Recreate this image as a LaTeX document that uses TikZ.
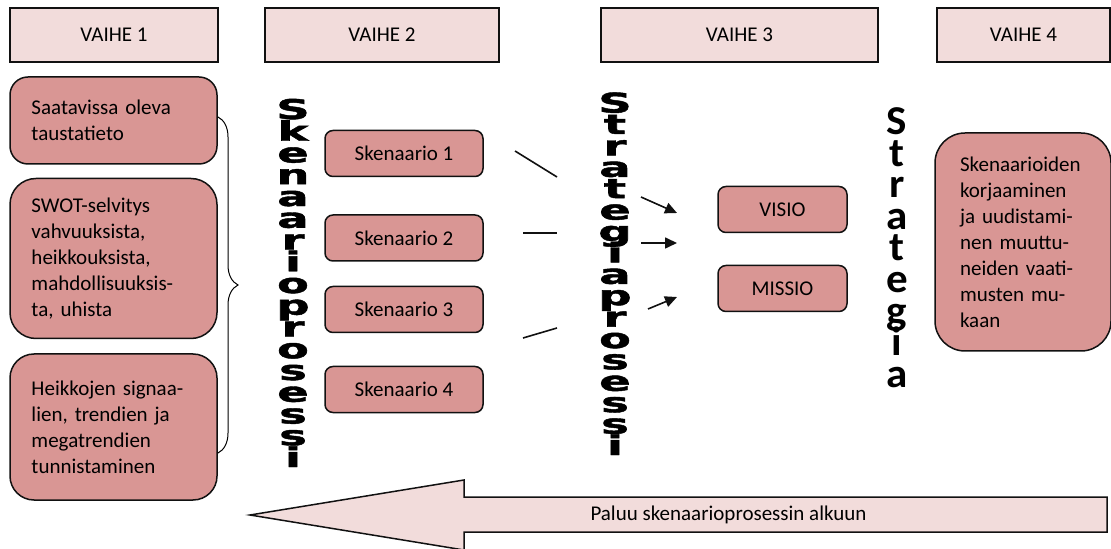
\documentclass[tikz,border=0pt]{standalone}
\usepackage{fontspec}
\setmainfont{Carlito}
\newfontfamily\stackfont{DejaVu Sans}[BoldFeatures={FakeBold=1.5}]
\usepackage{tikz}
\usetikzlibrary{positioning,arrows.meta,decorations.pathreplacing}
\definecolor{SkRose}{HTML}{D99694}
\definecolor{SkBlush}{HTML}{F2DCDB}
\definecolor{SkInk}{HTML}{111111}
% letters set one under another, with a fixed baseline step
\newcommand{\vstackword}[3]{%
  \scalebox{#1}[1]{\vbox{\baselineskip=#2\lineskiplimit=-\maxdimen\lineskip=0pt
    \halign{\hfil##\hfil\cr#3\cr}}}}
\tikzset{
  skBase/.style={
    font=\fontsize{10.5pt}{13pt}\selectfont,
    text=black,
    line width=0.75pt,
    draw=SkInk
  },
  skPhase/.style={
    skBase,
    fill=SkBlush,
    line width=0.9pt,
    minimum height=27pt,
    inner sep=0pt
  },
  skInfo/.style={
    skBase,
    fill=SkRose,
    align=left,
    inner xsep=10.75pt,
    inner ysep=0pt,
    text width=82pt
  },
  skScen/.style={
    skBase,
    fill=SkRose,
    rounded corners=4pt,
    minimum width=79pt,
    minimum height=23pt,
    inner sep=0pt
  },
  skStack/.style={
    font=\stackfont\bfseries\fontsize{13.6pt}{13.6pt}\selectfont,
    inner sep=0pt,
    anchor=base
  },
  skBigStack/.style={
    font=\bfseries\fontsize{20.5pt}{20.5pt}\selectfont,
    inner sep=0pt,
    anchor=base
  },
  skLine/.style={
    line width=0.8pt,
    draw=SkInk
  },
  skArrow/.style={
    line width=0.8pt,
    draw=SkInk,
    -{Triangle[length=6pt,width=5.5pt]}
  },
  skBrace/.style={
    line width=0.5pt,
    decorate,
    decoration={brace, amplitude=10pt}
  }
}
\begin{document}
\begin{tikzpicture}[x=0.5pt, y=-0.5pt]
  \useasboundingbox (0,0) rectangle (1111,549);

  % phases
  \node (ph1) [skPhase, minimum width=104pt] at (114,35) {VAIHE 1};
  \node (ph2) [skPhase, minimum width=117pt] at (382,35) {VAIHE 2};
  \node (ph3) [skPhase, minimum width=138.5pt] at (739.5,35) {VAIHE 3};
  \node (ph4) [skPhase, minimum width=86.5pt] at (1023.5,35) {VAIHE 4};

  % phase 1 sources
  \node (src) [skInfo, rounded corners=9pt, minimum height=43.5pt] at (113.5,120.5) {
    Saatavissa oleva\\
    taustatieto
  };
  \node (swot) [skInfo, below=6.5pt of src, rounded corners=13pt, minimum height=80pt] {
    SWOT-selvitys\\
    vahvuuksista,\\
    heikkouksista,\\
    mahdollisuuksis-\\
    ta, uhista
  };
  \node (sig) [skInfo, below=7pt of swot, rounded corners=12pt, minimum height=73pt] {
    Heikkojen signaa-\\
    lien, trendien ja\\
    megatrendien\\
    tunnistaminen
  };
  \coordinate (brTop) at (218,117);
  \coordinate (brBot) at (218,453);
  \draw [skBrace] (brTop) -- (brBot);

  % stacked words
  \node (skWord) [skStack] at (293,467) {\vstackword{1.7}{10.875pt}{%
    S\cr k\cr e\cr n\cr a\cr a\cr r\cr i\cr o\cr p\cr r\cr o\cr s\cr e\cr s\cr s\cr i}};
  \node (stWord) [skStack] at (615,455) {\vstackword{1.7}{10.7pt}{%
    S\cr t\cr r\cr a\cr t\cr e\cr g\cr i\cr a\cr p\cr r\cr o\cr s\cr e\cr s\cr s\cr i}};
  \node (sgWord) [skBigStack] at (897,387) {\vstackword{1.05}{15.75pt}{%
    S\cr t\cr r\cr a\cr t\cr e\cr g\cr i\cr a}};

  % scenarios
  \node (s1) [skScen] at (404,153.5) {Skenaario 1};
  \node (s2) [skScen, below=18.5pt of s1] {Skenaario 2};
  \node (s3) [skScen, below=12pt of s2] {Skenaario 3};
  \node (s4) [skScen, below=16.25pt of s3] {Skenaario 4};

  \coordinate (l1s) at (515,151);
  \coordinate (l1e) at (557,177);
  \coordinate (l2s) at (523,233);
  \coordinate (l2e) at (557,233);
  \coordinate (l3s) at (523,338);
  \coordinate (l3e) at (557,328);
  \draw [skLine] (l1s) -- (l1e);
  \draw [skLine] (l2s) -- (l2e);
  \draw [skLine] (l3s) -- (l3e);

  % vision and mission
  \node (visio) [skScen, minimum width=64.5pt] at (782.5,209.5) {VISIO};
  \node (missio) [skScen, minimum width=64.5pt, below=15.75pt of visio] {MISSIO};

  \coordinate (a1s) at (641,197);
  \coordinate (a1e) at (677,213);
  \coordinate (a2s) at (641,243);
  \coordinate (a2e) at (677,243);
  \coordinate (a3s) at (648,309);
  \coordinate (a3e) at (677,297);
  \draw [skArrow] (a1s) -- (a1e);
  \draw [skArrow] (a2s) -- (a2e);
  \draw [skArrow] (a3s) -- (a3e);

  % phase 4
  \node (fix) [skInfo, rounded corners=15pt, text width=63pt, inner xsep=12.5pt, minimum height=109pt] at (1023,242) {
    Skenaarioiden\\
    korjaaminen\\
    ja uudistami-\\
    nen muuttu-\\
    neiden vaati-\\
    musten mu-\\
    kaan
  };

  % return arrow
  \filldraw [fill=SkBlush, draw=SkInk, line width=0.75pt]
    (1107,497) -- (464,497) -- (464,480) -- (250,515) -- (464,550) -- (464,532) -- (1107,532) -- cycle;
  \node (back) [skBase, draw=none] at (728.5,515) {Paluu skenaarioprosessin alkuun};
\end{tikzpicture}
\end{document}
